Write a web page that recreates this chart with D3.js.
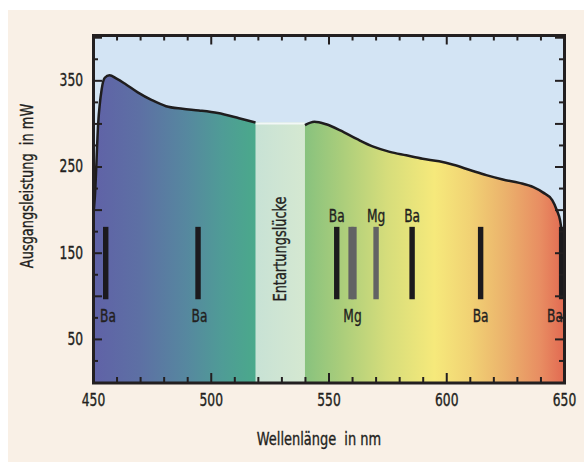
<!DOCTYPE html>
<html>
<head>
<meta charset="utf-8">
<script src="https://cdn.jsdelivr.net/npm/d3@7"></script>
<style>
  body { margin: 0; background: #fff; }
  text { font-family: "Liberation Sans Narrow", "DejaVu Sans Condensed", sans-serif; fill: #231f20;
         stroke: #231f20; stroke-width: 0.35px; white-space: pre; }
</style>
</head>
<body>
<svg id="chart" width="584" height="462"></svg>
<script>
// laser output curve (nm, mW)
const wavelengths = [450, 450.8, 452.2, 453.7, 455, 457, 460, 463.6, 469, 475, 481, 488, 495, 503, 512, 519,
  540, 544, 549, 555, 562, 569, 576, 583, 590, 597, 603, 610, 617, 624, 631, 637, 641, 645, 647, 648.3, 649, 650];
const power = [190, 215, 300, 340, 353, 356, 352, 346, 336, 327, 320, 317, 315, 312, 306, 301,
  298, 302, 299, 292, 282, 273, 267, 263, 259, 256, 252, 246, 240, 235, 231, 226, 220, 211, 199, 188, 176, 160];

// gap in the tuning range
const gapRange = [519, 540];
const gapTop = 301;
const gapLabel = "Entartungslücke";

// spectral lines
const lineNm = [455.4, 494.6, 553.5, 559.6, 560.8, 570.2, 585.5, 614.6, 649.0];
const lineElement = ["Ba", "Ba", "Ba", "Mg", "Mg", "Mg", "Ba", "Ba", "Ba"];
const lineRange = [96, 180];

// labels of the lines
const labelText = ["Ba", "Ba", "Ba", "Mg", "Mg", "Ba", "Ba", "Ba"];
const labelNm = [456.4, 495.2, 553.5, 560.2, 570.2, 585.5, 614.6, 649.0];
const labelAbove = [false, false, true, false, true, true, false, false];

const xTicks = [450, 500, 550, 600, 650];
const yTicks = [50, 150, 250, 350];

const svg = d3.select("#chart");
const mLeft = 93, mRight = 564, mTop = 35.5, mBottom = 382;

const x = d3.scaleLinear().domain([450, 650]).range([mLeft, mRight]);
const y = d3.scaleLinear().domain([0, 402]).range([mBottom, mTop]);

// page background
svg.append("rect").attr("x", 8).attr("y", 10).attr("width", 576).attr("height", 452).attr("fill", "#f9f0e6");

const defs = svg.append("defs");
defs.append("clipPath").attr("id", "plotClip")
  .append("rect").attr("x", mLeft).attr("y", mTop).attr("width", mRight - mLeft).attr("height", mBottom - mTop);

const spectrum = [
  [450, "#6062a7"], [470, "#5d70a4"], [490, "#56889f"], [505, "#4f9c96"], [519, "#4aa98b"],
  [540, "#88c27e"], [555, "#a9cd7b"], [575, "#d6dd7b"], [595, "#f6e97b"], [610, "#f1d274"],
  [625, "#ebb26c"], [640, "#e88d62"], [650, "#e26a52"]
];
const grad = defs.append("linearGradient").attr("id", "spec")
  .attr("gradientUnits", "userSpaceOnUse")
  .attr("x1", x(450)).attr("x2", x(650)).attr("y1", 0).attr("y2", 0);
grad.selectAll("stop").data(spectrum).join("stop")
  .attr("offset", d => (x(d[0]) - x(450)) / (x(650) - x(450)))
  .attr("stop-color", d => d[1]);

const gapGrad = defs.append("linearGradient").attr("id", "gapGrad");
gapGrad.append("stop").attr("offset", 0).attr("stop-color", "#c8e2d5");
gapGrad.append("stop").attr("offset", 1).attr("stop-color", "#d5e8d1");

const plot = svg.append("g").attr("clip-path", "url(#plotClip)");

plot.append("rect").attr("x", mLeft).attr("y", mTop).attr("width", mRight - mLeft).attr("height", mBottom - mTop)
  .attr("fill", "#d3e4f4");

const curveData = wavelengths.map((w, i) => ({ nm: w, v: power[i] }));

const area = d3.area()
  .x(d => x(d.nm)).y0(y(0)).y1(d => y(d.v))
  .curve(d3.curveMonotoneX);

plot.append("path").datum(curveData).attr("d", area).attr("fill", "url(#spec)");

// gap
plot.append("rect")
  .attr("x", x(gapRange[0])).attr("y", y(gapTop))
  .attr("width", x(gapRange[1]) - x(gapRange[0])).attr("height", y(0) - y(gapTop))
  .attr("fill", "url(#gapGrad)");
plot.append("line")
  .attr("x1", x(gapRange[0])).attr("x2", x(gapRange[1]))
  .attr("y1", y(gapTop) + 1).attr("y2", y(gapTop) + 1)
  .attr("stroke", "#f2f7f6").attr("stroke-width", 2);

// outline, broken at the gap
const line = d3.line().x(d => x(d.nm)).y(d => y(d.v)).curve(d3.curveMonotoneX);
const segLeft = curveData.filter(d => d.nm <= gapRange[0]);
const segRight = curveData.filter(d => d.nm >= gapRange[1]);
[segLeft, segRight].forEach(seg => {
  plot.append("path").datum(seg).attr("d", line)
    .attr("fill", "none").attr("stroke", "#1f1d1e").attr("stroke-width", 2.5);
});

// spectral lines
const lineColor = d3.scaleOrdinal().domain(["Ba", "Mg"]).range(["#1c1a1d", "#626264"]);
const halfW = 1.15;
plot.selectAll("rect.specline").data(lineNm).join("rect")
  .attr("class", "specline")
  .attr("x", d => x(d - halfW))
  .attr("width", d => x(d + halfW) - x(d - halfW))
  .attr("y", y(lineRange[1]))
  .attr("height", y(lineRange[0]) - y(lineRange[1]))
  .attr("fill", (d, i) => lineColor(lineElement[i]));

// line labels
svg.selectAll("text.lbl").data(labelText).join("text")
  .attr("class", "lbl")
  .attr("x", (d, i) => i === labelText.length - 1 ? x(650) - 1 : x(labelNm[i]))
  .attr("y", (d, i) => labelAbove[i] ? 221.5 : 322)
  .attr("text-anchor", (d, i) => i === labelText.length - 1 ? "end" : "middle")
  .style("font-size", "17px")
  .text(d => d);

// gap label
svg.append("text")
  .attr("transform", `translate(${(x(gapRange[0]) + x(gapRange[1])) / 2 + 5.5}, 249) rotate(-90)`)
  .attr("text-anchor", "middle")
  .style("font-size", "18px")
  .text(gapLabel);

// axes: ticks point inward
const tickStyle = g => {
  g.select(".domain").remove();
  g.selectAll(".tick line").attr("stroke", "#231f20").attr("stroke-width", 2);
  g.selectAll(".tick text").style("font-size", "17px").attr("fill", "#231f20");
};

const yMajor = d3.range(50, 401, 50);
const yMinor = d3.range(25, 401, 50);
const xMajor = d3.range(500, 601, 50);
const xMinor = d3.range(460, 650, 10).filter(v => v % 50 !== 0);

// left
svg.append("g").attr("transform", `translate(${mLeft},0)`)
  .call(d3.axisLeft(y).tickValues(yMinor).tickSize(-5).tickFormat("")).call(tickStyle);
svg.append("g").attr("transform", `translate(${mLeft},0)`)
  .call(d3.axisLeft(y).tickValues(yMajor).tickSize(-9).tickFormat("")).call(tickStyle);
svg.append("g").attr("transform", `translate(${mLeft},0)`)
  .call(d3.axisLeft(y).tickValues(yTicks).tickSize(0).tickPadding(10).tickFormat(d3.format("d"))).call(tickStyle);
// right
svg.append("g").attr("transform", `translate(${mRight},0)`)
  .call(d3.axisRight(y).tickValues(yMinor).tickSize(-5).tickFormat("")).call(tickStyle);
svg.append("g").attr("transform", `translate(${mRight},0)`)
  .call(d3.axisRight(y).tickValues(yMajor).tickSize(-9).tickFormat("")).call(tickStyle);
// bottom
svg.append("g").attr("transform", `translate(0,${mBottom})`)
  .call(d3.axisBottom(x).tickValues(xMinor).tickSize(-5).tickFormat("")).call(tickStyle);
svg.append("g").attr("transform", `translate(0,${mBottom})`)
  .call(d3.axisBottom(x).tickValues(xMajor).tickSize(-9).tickFormat("")).call(tickStyle);
svg.append("g").attr("transform", `translate(0,${mBottom})`)
  .call(d3.axisBottom(x).tickValues(xTicks).tickSize(0).tickPadding(12).tickFormat(d3.format("d"))).call(tickStyle);
// top
svg.append("g").attr("transform", `translate(0,${mTop})`)
  .call(d3.axisTop(x).tickValues(xMinor).tickSize(-5).tickFormat("")).call(tickStyle);
svg.append("g").attr("transform", `translate(0,${mTop})`)
  .call(d3.axisTop(x).tickValues(xMajor).tickSize(-9).tickFormat("")).call(tickStyle);

// frame
svg.append("rect")
  .attr("x", mLeft + 0.5).attr("y", mTop).attr("width", mRight - mLeft).attr("height", mBottom - mTop + 1)
  .attr("fill", "none").attr("stroke", "#231f20").attr("stroke-width", 3);

// axis titles
svg.append("text")
  .attr("x", 319).attr("y", 445)
  .attr("text-anchor", "middle")
  .style("font-size", "18px")
  .text("Wellenlänge  in nm");

svg.append("text")
  .attr("transform", "translate(33,186) rotate(-90)")
  .attr("text-anchor", "middle")
  .style("font-size", "18px")
  .text("Ausgangsleistung  in mW");

// the original uses a condensed face: squeeze the text horizontally
svg.selectAll("text").each(function () {
  const w = this.getComputedTextLength();
  if (w > 0) {
    this.setAttribute("textLength", (w * 0.8).toFixed(1));
    this.setAttribute("lengthAdjust", "spacingAndGlyphs");
  }
});
</script>
</body>
</html>
